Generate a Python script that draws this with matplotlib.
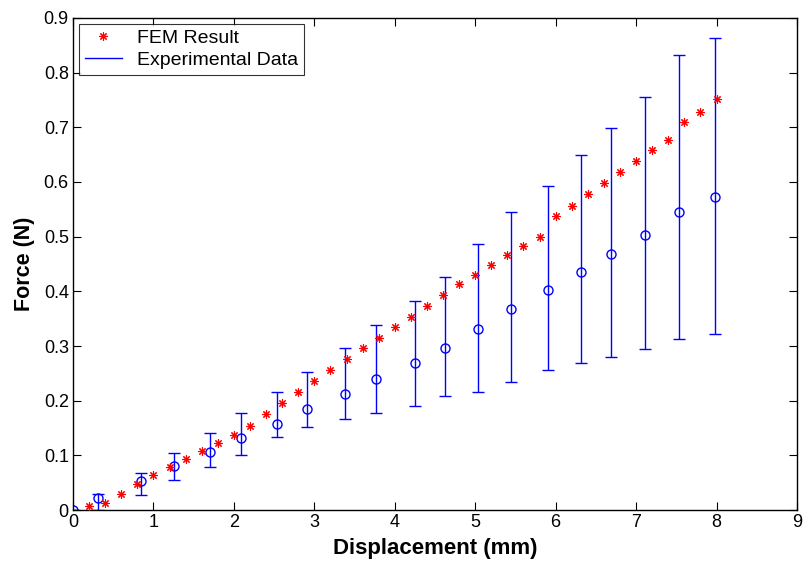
import matplotlib.pyplot as plt
from matplotlib.lines import Line2D
import numpy as np

plt.rcParams['font.family'] = ['Liberation Sans', 'DejaVu Sans']

# FEM simulation result
fem_x = [0.2, 0.4, 0.6, 0.8, 1.0, 1.2, 1.4, 1.6, 1.8, 2.0,
         2.2, 2.4, 2.6, 2.8, 3.0, 3.2, 3.4, 3.6, 3.8, 4.0,
         4.2, 4.4, 4.6, 4.8, 5.0, 5.2, 5.4, 5.6, 5.8, 6.0,
         6.2, 6.4, 6.6, 6.8, 7.0, 7.2, 7.4, 7.6, 7.8, 8.0]
fem_y = [0.007, 0.013, 0.030, 0.047, 0.064, 0.079, 0.093, 0.108, 0.122, 0.137,
         0.154, 0.175, 0.196, 0.216, 0.236, 0.256, 0.276, 0.296, 0.314, 0.334,
         0.353, 0.373, 0.394, 0.414, 0.429, 0.449, 0.466, 0.483, 0.500, 0.537,
         0.557, 0.578, 0.598, 0.618, 0.639, 0.659, 0.677, 0.710, 0.728, 0.751]

# experimental mean with lower / upper bounds
exp_x = [0.0, 0.31, 0.85, 1.25, 1.70, 2.09, 2.54, 2.91, 3.38, 3.77,
         4.25, 4.63, 5.03, 5.44, 5.90, 6.31, 6.69, 7.11, 7.53, 7.98]
exp_y = [0.0, 0.022, 0.053, 0.081, 0.106, 0.131, 0.158, 0.185, 0.213, 0.240,
         0.268, 0.297, 0.331, 0.368, 0.403, 0.436, 0.468, 0.503, 0.545, 0.573]
exp_lo = [0.0, 0.0, 0.027, 0.055, 0.078, 0.101, 0.133, 0.152, 0.166, 0.178,
          0.191, 0.208, 0.216, 0.235, 0.257, 0.268, 0.279, 0.295, 0.313, 0.322]
exp_hi = [0.0, 0.029, 0.068, 0.104, 0.140, 0.178, 0.215, 0.253, 0.296, 0.338,
          0.383, 0.426, 0.486, 0.545, 0.592, 0.649, 0.699, 0.756, 0.832, 0.864]

fig = plt.figure(figsize=(8.05, 5.62), dpi=100)
ax = fig.add_axes([0.0907, 0.0925, 0.8993, 0.8755])

y = np.array(exp_y)
yerr = [y - np.array(exp_lo), np.array(exp_hi) - y]
ax.errorbar(exp_x, exp_y, yerr=yerr, fmt='o', color='blue', mfc='none',
            ms=6.5, mew=1, elinewidth=1, capsize=4.6, capthick=1, zorder=2)
star = (8, 2, 0)  # matlab style asterisk
ax.plot(fem_x, fem_y, ls='none', marker=star, color='red', ms=6, mew=0.8, zorder=3)

ax.set_xlim(0, 9)
ax.set_ylim(0, 0.9)
ax.set_xticks(np.arange(0, 10, 1))
ax.set_yticks(np.arange(0, 0.91, 0.1))
ax.set_yticklabels(['0', '0.1', '0.2', '0.3', '0.4', '0.5', '0.6', '0.7', '0.8', '0.9'])
ax.tick_params(direction='in', top=True, right=True, length=6, width=0.8,
               labelsize=13, pad=3)
for s in ax.spines.values():
    s.set_linewidth(1)

ax.set_xlabel('Displacement (mm)', fontsize=16, fontweight='bold', labelpad=5)
ax.set_ylabel('Force (N)', fontsize=15.5, fontweight='bold', labelpad=6)

handles = [Line2D([], [], ls='none', marker=star, color='red', ms=6, mew=0.8),
           Line2D([], [], color='blue', lw=1)]
leg = ax.legend(handles, ['FEM Result', 'Experimental Data'], loc='upper left',
                fontsize=14, frameon=True, fancybox=False, edgecolor='black',
                borderaxespad=0.3, handlelength=1.9, handletextpad=0.8,
                borderpad=0.3, labelspacing=0.2)
leg.get_frame().set_linewidth(0.8)

fig.savefig('out.png', dpi=100)
